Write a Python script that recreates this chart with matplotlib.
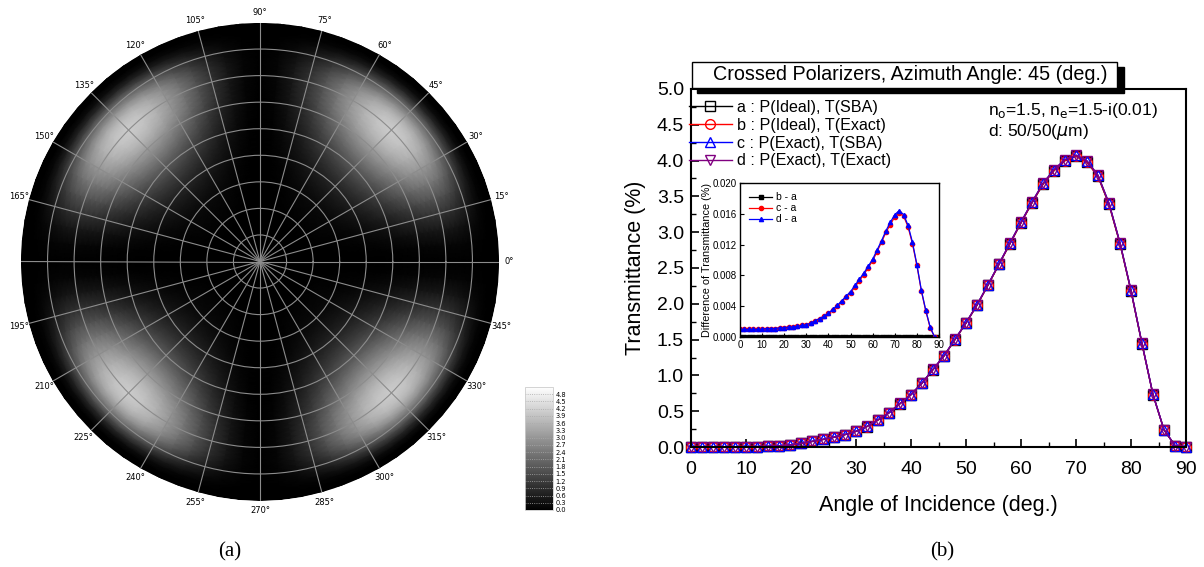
import numpy as np
import matplotlib
matplotlib.use("Agg")
import matplotlib.pyplot as plt
from matplotlib.patches import Rectangle

# ---------------- data ----------------
angles = np.arange(0, 91, 2)  # angle of incidence (deg)

T_a = [0.0, 0.0, 0.0005, 0.001, 0.002, 0.003, 0.005, 0.008, 0.014, 0.027,
       0.05, 0.077, 0.105, 0.136, 0.173, 0.218, 0.286, 0.377, 0.477, 0.605,
       0.73, 0.89, 1.08, 1.27, 1.50, 1.73, 1.98, 2.26, 2.55, 2.84,
       3.13, 3.41, 3.67, 3.86, 4.00, 4.06, 3.98, 3.78, 3.39, 2.84,
       2.18, 1.44, 0.73, 0.24, 0.02, 0.0]

diff_b = [0.0] * 46
diff_c = [0.0010, 0.0010, 0.0010, 0.0010, 0.0010, 0.0010, 0.0011, 0.0011, 0.0011, 0.0012,
          0.0012, 0.0013, 0.0013, 0.0014, 0.0015, 0.0016, 0.0018, 0.0021, 0.0024, 0.0027,
          0.0031, 0.0035, 0.0040, 0.0046, 0.0052, 0.0057, 0.0065, 0.0073, 0.0081, 0.0090,
          0.0099, 0.0111, 0.0123, 0.0136, 0.0146, 0.0156, 0.0161, 0.0157, 0.0143, 0.0121,
          0.0093, 0.0060, 0.0034, 0.0012, 0.0000, -0.0006]
diff_d = [0.0010, 0.0010, 0.0010, 0.0010, 0.0010, 0.0010, 0.0011, 0.0011, 0.0011, 0.0012,
          0.0012, 0.0013, 0.0013, 0.0014, 0.0015, 0.0016, 0.0018, 0.0021, 0.0024, 0.0027,
          0.0031, 0.0036, 0.0041, 0.0047, 0.0053, 0.0059, 0.0067, 0.0075, 0.0083, 0.0092,
          0.0101, 0.0113, 0.0125, 0.0138, 0.0149, 0.0159, 0.0164, 0.0159, 0.0145, 0.0123,
          0.0094, 0.0061, 0.0035, 0.0013, 0.0000, -0.0006]

# azimuthal weight of the transmittance, one quadrant (0..90 deg, 5 deg steps)
azimuth_weight_quadrant = [0.0, 0.03, 0.117, 0.25, 0.413, 0.587, 0.75, 0.883, 0.97, 1.0,
                           0.97, 0.883, 0.75, 0.587, 0.413, 0.25, 0.117, 0.03, 0.0]

theta_label_angles = list(range(0, 360, 15))
theta_labels = [f"{a}°" if a != 180 else "" for a in theta_label_angles]
cbar_ticks = [round(0.3 * i, 1) for i in range(17)]

legend_labels = ["a : P(Ideal), T(SBA)", "b : P(Ideal), T(Exact)",
                 "c : P(Exact), T(SBA)", "d : P(Exact), T(Exact)"]
inset_labels = ["b - a", "c - a", "d - a"]

# ---------------- figure ----------------
W, H = 1204, 567
fig = plt.figure(figsize=(W / 100, H / 100), dpi=100)
plt.rcParams['font.family'] = ['Liberation Sans', 'DejaVu Sans']

def fx(px):
    return px / W

def fy(py):
    return 1 - py / H

# ---------- (a) polar map ----------
cx, cy, R = 260, 261.5, 239
axp = fig.add_axes([fx(cx - R), fy(cy + R), 2 * R / W, 2 * R / H], projection='polar')
full_weight = np.array(azimuth_weight_quadrant + azimuth_weight_quadrant[1:] * 3)
phi = np.deg2rad(np.arange(0, 361, 5))
TH, RR = np.meshgrid(phi, angles, indexing='ij')
C = np.outer(full_weight, np.array(T_a))
mesh = axp.pcolormesh(TH, RR, C, shading='gouraud', cmap='gray', vmin=0, vmax=5.1)
axp.set_ylim(0, 90)
axp.set_rticks(np.arange(10, 90, 10))
axp.set_yticklabels([])
axp.set_xticks(np.deg2rad(theta_label_angles))
axp.set_xticklabels(theta_labels, fontsize=6, family='DejaVu Sans')
axp.tick_params(axis='x', pad=-3)
axp.grid(True, color='#8c8c8c', lw=0.8)
axp.spines['polar'].set_visible(False)

# colorbar
cax = fig.add_axes([fx(525), fy(510), 28 / W, 123 / H])
cb = fig.colorbar(mesh, cax=cax, ticks=cbar_ticks)
cb.ax.tick_params(labelsize=4.8, length=0, pad=2)
cb.ax.set_yticklabels([f"{v:.1f}" for v in cbar_ticks], family='DejaVu Sans')
cb.outline.set_edgecolor('#cccccc')
cb.outline.set_linewidth(0.6)
for v in cbar_ticks:
    cb.ax.axhline(v, color='#aaaaaa', ls=':', lw=0.6)

# ---------- (b) main curve ----------
ax = fig.add_axes([fx(691), fy(447), 495 / W, (447 - 89) / H])
ang = np.array(angles)
Ta = np.array(T_a)
series = [
    (Ta, 'black', 's'),
    (Ta + np.array(diff_b), 'red', 'o'),
    (Ta + np.array(diff_c), 'blue', '^'),
    (Ta + np.array(diff_d), '#800080', 'v'),
]
for (y, col, mk), lab in zip(series, legend_labels):
    ax.plot(ang, y, color=col, marker=mk, mfc='none', mec=col, ms=7, mew=1.0,
            lw=1.0, label=lab, clip_on=False)
ax.set_xlim(0, 90)
ax.set_ylim(0, 5.0)
ax.set_xticks(np.arange(0, 91, 10))
ax.set_xticks(np.arange(0, 91, 5), minor=True)
ax.set_yticks(np.arange(0, 5.01, 0.5))
ax.set_yticks(np.arange(0, 5.01, 0.25), minor=True)
ax.set_yticklabels([f"{v:.1f}" for v in np.arange(0, 5.01, 0.5)])
ax.tick_params(which='both', direction='in', labelsize=14)
ax.tick_params(axis='x', which='major', pad=10)
ax.tick_params(axis='y', which='major', pad=5)
ax.tick_params(which='major', length=6, width=1.2)
ax.tick_params(which='minor', length=3.5, width=1.0)
for s in ax.spines.values():
    s.set_linewidth(1.5)
ax.set_xlabel("Angle of Incidence (deg.)", fontsize=15.5, labelpad=12)
ax.set_ylabel("Transmittance (%)", fontsize=15.5, labelpad=8)
leg = ax.legend(loc='upper left', bbox_to_anchor=(-0.005, 0.97), frameon=False,
                fontsize=11.6, handlelength=2.7, handletextpad=0.3,
                labelspacing=0.18, borderaxespad=0.0, borderpad=0.0)

fig.text(fx(988), fy(111), r"n$_\mathrm{o}$=1.5, n$_\mathrm{e}$=1.5-i(0.01)",
         fontsize=12.5, va='center', ha='left')
fig.text(fx(988), fy(132), r"d: 50/50($\mu$m)", fontsize=12.5, va='center', ha='left')

# title box with shadow
fig.patches.append(Rectangle((fx(697), fy(93)), (1124 - 697) / W, (93 - 67) / H,
                             transform=fig.transFigure, facecolor='black',
                             edgecolor='black', zorder=5))
fig.patches.append(Rectangle((fx(692), fy(87.5)), (1117 - 692) / W, (87.5 - 62) / H,
                             transform=fig.transFigure, facecolor='white',
                             edgecolor='black', lw=1.0, zorder=6))
fig.text(fx(910), fy(75), "Crossed Polarizers, Azimuth Angle: 45 (deg.)",
         fontsize=14.2, ha='center', va='center', zorder=7)

# ---------- inset ----------
axi = fig.add_axes([fx(740), fy(337), (939 - 740) / W, (337 - 183) / H])
inset_series = [(diff_b, 'black', 's'), (diff_c, 'red', 'o'), (diff_d, 'blue', '^')]
for (y, col, mk), lab in zip(inset_series, inset_labels):
    axi.plot(ang, y, color=col, marker=mk, ms=3, lw=0.9, label=lab)
axi.set_xlim(0, 90)
axi.set_ylim(0, 0.020)
axi.set_xticks(np.arange(0, 91, 10))
axi.set_yticks(np.arange(0, 0.0201, 0.004))
axi.set_yticklabels([f"{v:.3f}" for v in np.arange(0, 0.0201, 0.004)])
axi.tick_params(direction='in', labelsize=7, length=3, width=0.8, pad=2)
for s in axi.spines.values():
    s.set_linewidth(1.0)
axi.set_ylabel("Difference of Transmittance (%)", fontsize=7.8, labelpad=1)
axi.legend(loc='upper left', frameon=False, fontsize=7.5, handlelength=2.2,
           handletextpad=0.4, labelspacing=0.1, borderaxespad=0.5)

# panel labels
fig.text(fx(230), fy(552), "(a)", fontsize=15, family='Liberation Serif',
         ha='center', va='center')
fig.text(fx(942), fy(552), "(b)", fontsize=15, family='Liberation Serif',
         ha='center', va='center')

fig.savefig("out.png", dpi=100)
